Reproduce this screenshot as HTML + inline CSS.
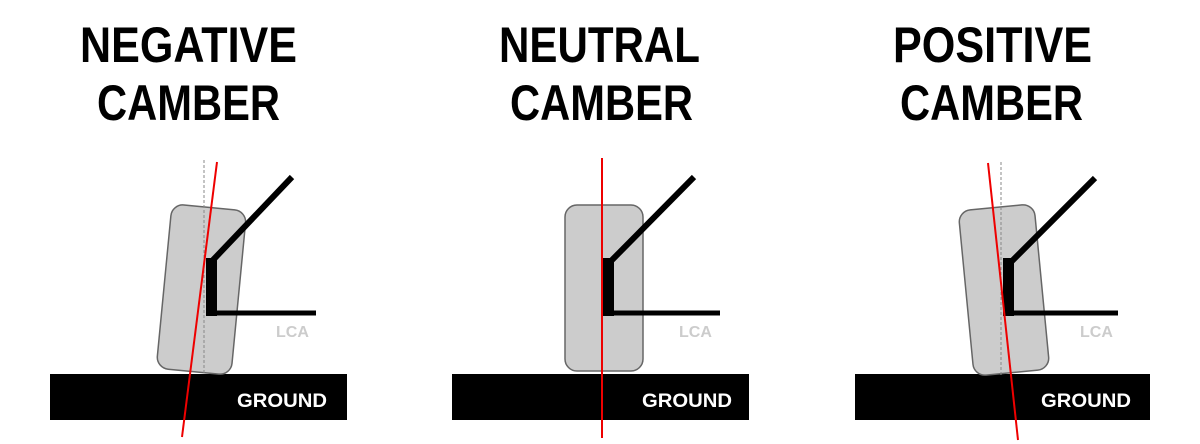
<!DOCTYPE html>
<html><head><style>html,body{margin:0;padding:0;background:#fff;}svg{display:block}</style></head>
<body>
<svg width="1200" height="444" viewBox="0 0 1200 444" xmlns="http://www.w3.org/2000/svg" font-family="Liberation Sans, sans-serif" font-weight="bold">
<g fill="#000" font-size="50">
<text x="80" y="62" textLength="217" lengthAdjust="spacingAndGlyphs">NEGATIVE</text>
<text x="97" y="120" textLength="183" lengthAdjust="spacingAndGlyphs">CAMBER</text>
<text x="499" y="62" textLength="201" lengthAdjust="spacingAndGlyphs">NEUTRAL</text>
<text x="510" y="120" textLength="183" lengthAdjust="spacingAndGlyphs">CAMBER</text>
<text x="893" y="62" textLength="199" lengthAdjust="spacingAndGlyphs">POSITIVE</text>
<text x="900" y="120" textLength="183" lengthAdjust="spacingAndGlyphs">CAMBER</text>
</g>
<!-- Panel 1 -->
<rect x="50" y="374" width="297" height="46" fill="#000"/>
<rect x="164" y="207" width="75" height="165" rx="12" fill="#ccc" stroke="#666" stroke-width="1.5" transform="rotate(5.5 201 289)"/>
<line x1="204" y1="160" x2="204" y2="375" stroke="#888" stroke-width="1" stroke-dasharray="3,2"/>
<line x1="292" y1="177" x2="213" y2="260" stroke="#000" stroke-width="6"/>
<rect x="206" y="258" width="11" height="58" fill="#000"/>
<line x1="207" y1="313" x2="316" y2="313" stroke="#000" stroke-width="5"/>
<line x1="217" y1="162" x2="182" y2="437" stroke="#e00" stroke-width="2"/>
<text x="276" y="337" fill="#ccc" font-size="16">LCA</text>
<text x="237" y="407" fill="#fff" font-size="19" textLength="90" lengthAdjust="spacingAndGlyphs">GROUND</text>
<!-- Panel 2 -->
<rect x="452" y="374" width="297" height="46" fill="#000"/>
<rect x="565" y="205" width="78" height="166" rx="12" fill="#ccc" stroke="#666" stroke-width="1.5"/>
<line x1="694" y1="177" x2="612" y2="260" stroke="#000" stroke-width="6"/>
<rect x="603" y="258" width="11" height="58" fill="#000"/>
<line x1="607" y1="313" x2="720" y2="313" stroke="#000" stroke-width="5"/>
<line x1="602" y1="158" x2="602" y2="438" stroke="#e00" stroke-width="2"/>
<text x="679" y="337" fill="#ccc" font-size="16">LCA</text>
<text x="642" y="407" fill="#fff" font-size="19" textLength="90" lengthAdjust="spacingAndGlyphs">GROUND</text>
<!-- Panel 3 -->
<rect x="855" y="374" width="295" height="46" fill="#000"/>
<rect x="966" y="207" width="76" height="166" rx="12" fill="#ccc" stroke="#666" stroke-width="1.5" transform="rotate(-5.5 1004 290)"/>
<line x1="1001" y1="162" x2="1001" y2="375" stroke="#888" stroke-width="1" stroke-dasharray="3,2"/>
<line x1="1095" y1="178" x2="1011" y2="262" stroke="#000" stroke-width="6"/>
<rect x="1003" y="258" width="11" height="58" fill="#000"/>
<line x1="1007" y1="313" x2="1118" y2="313" stroke="#000" stroke-width="5"/>
<line x1="988" y1="163" x2="1018" y2="440" stroke="#e00" stroke-width="2"/>
<text x="1080" y="337" fill="#ccc" font-size="16">LCA</text>
<text x="1041" y="407" fill="#fff" font-size="19" textLength="90" lengthAdjust="spacingAndGlyphs">GROUND</text>
</svg>
</body></html>
